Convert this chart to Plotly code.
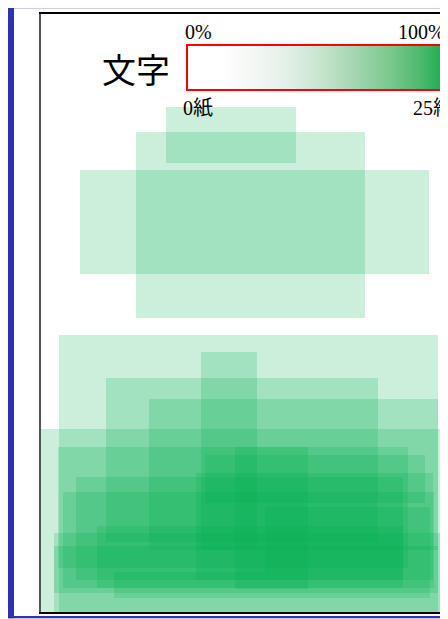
import plotly.graph_objects as go

# Text blocks (page units: x from left edge of the frame, y from top edge)
block_x0 = [125, 95, 39, 18, 0, 160, 65, 108, 17, 164, 194, 35, 155, 22, 224, 56, 13, 13, 73]
block_y0 = [93, 118, 156, 321, 415, 338, 364, 385, 433, 441, 433, 463, 459, 478, 493, 512, 519, 532, 558]
block_x1 = [255, 324, 388, 397, 420, 216, 337, 397, 367, 384, 267, 362, 392, 393, 389, 362, 401, 397, 224]
block_y1 = [149, 304, 260, 598, 606, 536, 528, 536, 554, 489, 575, 566, 566, 574, 584, 574, 598, 579, 584]

# Legend
legend_title = "文字"
pct_labels = ["0%", "100%"]
count_labels = ["0紙", "25紙"]
count_range = [0, 25]
grad_stops = [0.0, 0.12, 0.26, 0.39, 0.52, 0.65, 0.79, 0.92, 1.0]
grad_colors = ["#ffffff", "#ffffff", "#f3f8f4", "#e3f0e6", "#c8e5cf",
               "#a5d7b2", "#7dc98f", "#4bb96b", "#1fae50"]

# geometry (figure pixels; the page puts the figure 8px in from the window corner)
OFF = 8
FIG_W, FIG_H = 456, 611
ML, MT, MB = 33, 6, 7
W = FIG_W - ML
H = FIG_H - MT - MB


def px(xs):  # window pixel -> paper x
    return (xs - OFF - ML) / W


def py(ys):  # window pixel -> paper y
    return (FIG_H - MB - (ys - OFF)) / H


fig = go.Figure()

# invisible trace that carries the colour scale legend
fig.add_trace(go.Scatter(
    x=[-100, -100], y=[-100, -100], mode="markers",
    marker=dict(
        color=count_range, cmin=count_range[0], cmax=count_range[1], size=1,
        colorscale=[[s, c] for s, c in zip(grad_stops, grad_colors)],
        showscale=True,
        colorbar=dict(
            orientation="h", lenmode="pixels", len=255, thickness=45,
            x=px(187), xanchor="left", y=py(45), yanchor="top",
            xpad=0, ypad=0, outlinecolor="#ff0000", outlinewidth=2,
            showticklabels=False, ticks="", borderwidth=0,
        ),
    ),
    hoverinfo="skip", showlegend=False,
))

shapes = []
for x0, y0, x1, y1 in zip(block_x0, block_y0, block_x1, block_y1):
    shapes.append(dict(type="rect", xref="x", yref="y", x0=x0, y0=y0, x1=x1, y1=y1,
                       fillcolor="#00B050", opacity=0.2, line=dict(width=0), layer="below"))

blue = "#3030b8"
# outer blue frame (page decoration), window pixels
for (a, b, c, d) in [(8, 3, 14, 618.3), (8, 3, 290, 8.3), (290, 0, 470, 8.3), (8, 616, 470, 618.3)]:
    shapes.append(dict(type="rect", xref="paper", yref="paper", x0=px(a), x1=px(c),
                       y0=py(b), y1=py(d), fillcolor=blue, line=dict(width=0), layer="above"))

serif = dict(family="Liberation Serif, Noto Sans CJK JP", size=20, color="#000")
ann = [
    dict(text=legend_title, x=px(135.5), y=py(68), xanchor="center", yanchor="middle",
         font=dict(family="Noto Sans CJK JP", size=34, color="#000")),
    dict(text=pct_labels[0], x=px(183), y=py(32), xanchor="left", yanchor="middle", font=serif),
    dict(text=pct_labels[1], x=px(447), y=py(32), xanchor="right", yanchor="middle", font=serif),
    dict(text=count_labels[0], x=px(181), y=py(108), xanchor="left", yanchor="middle", font=serif),
    dict(text=count_labels[1], x=px(411), y=py(108), xanchor="left", yanchor="middle", font=serif),
]
for a in ann:
    a.update(xref="paper", yref="paper", showarrow=False)

fig.update_layout(
    width=FIG_W, height=FIG_H,
    margin=dict(l=ML, r=0, t=MT, b=MB, pad=0),
    paper_bgcolor="white", plot_bgcolor="white",
    shapes=shapes, annotations=ann, showlegend=False,
    xaxis=dict(range=[0, W], showgrid=False, zeroline=False, showticklabels=False, ticks="",
               showline=True, linecolor="#000", linewidth=1.5, mirror=True, fixedrange=True),
    yaxis=dict(range=[H, 0], showgrid=False, zeroline=False, showticklabels=False, ticks="",
               showline=True, linecolor="#555", linewidth=2, fixedrange=True),
)

fig.write_html("out.html")
